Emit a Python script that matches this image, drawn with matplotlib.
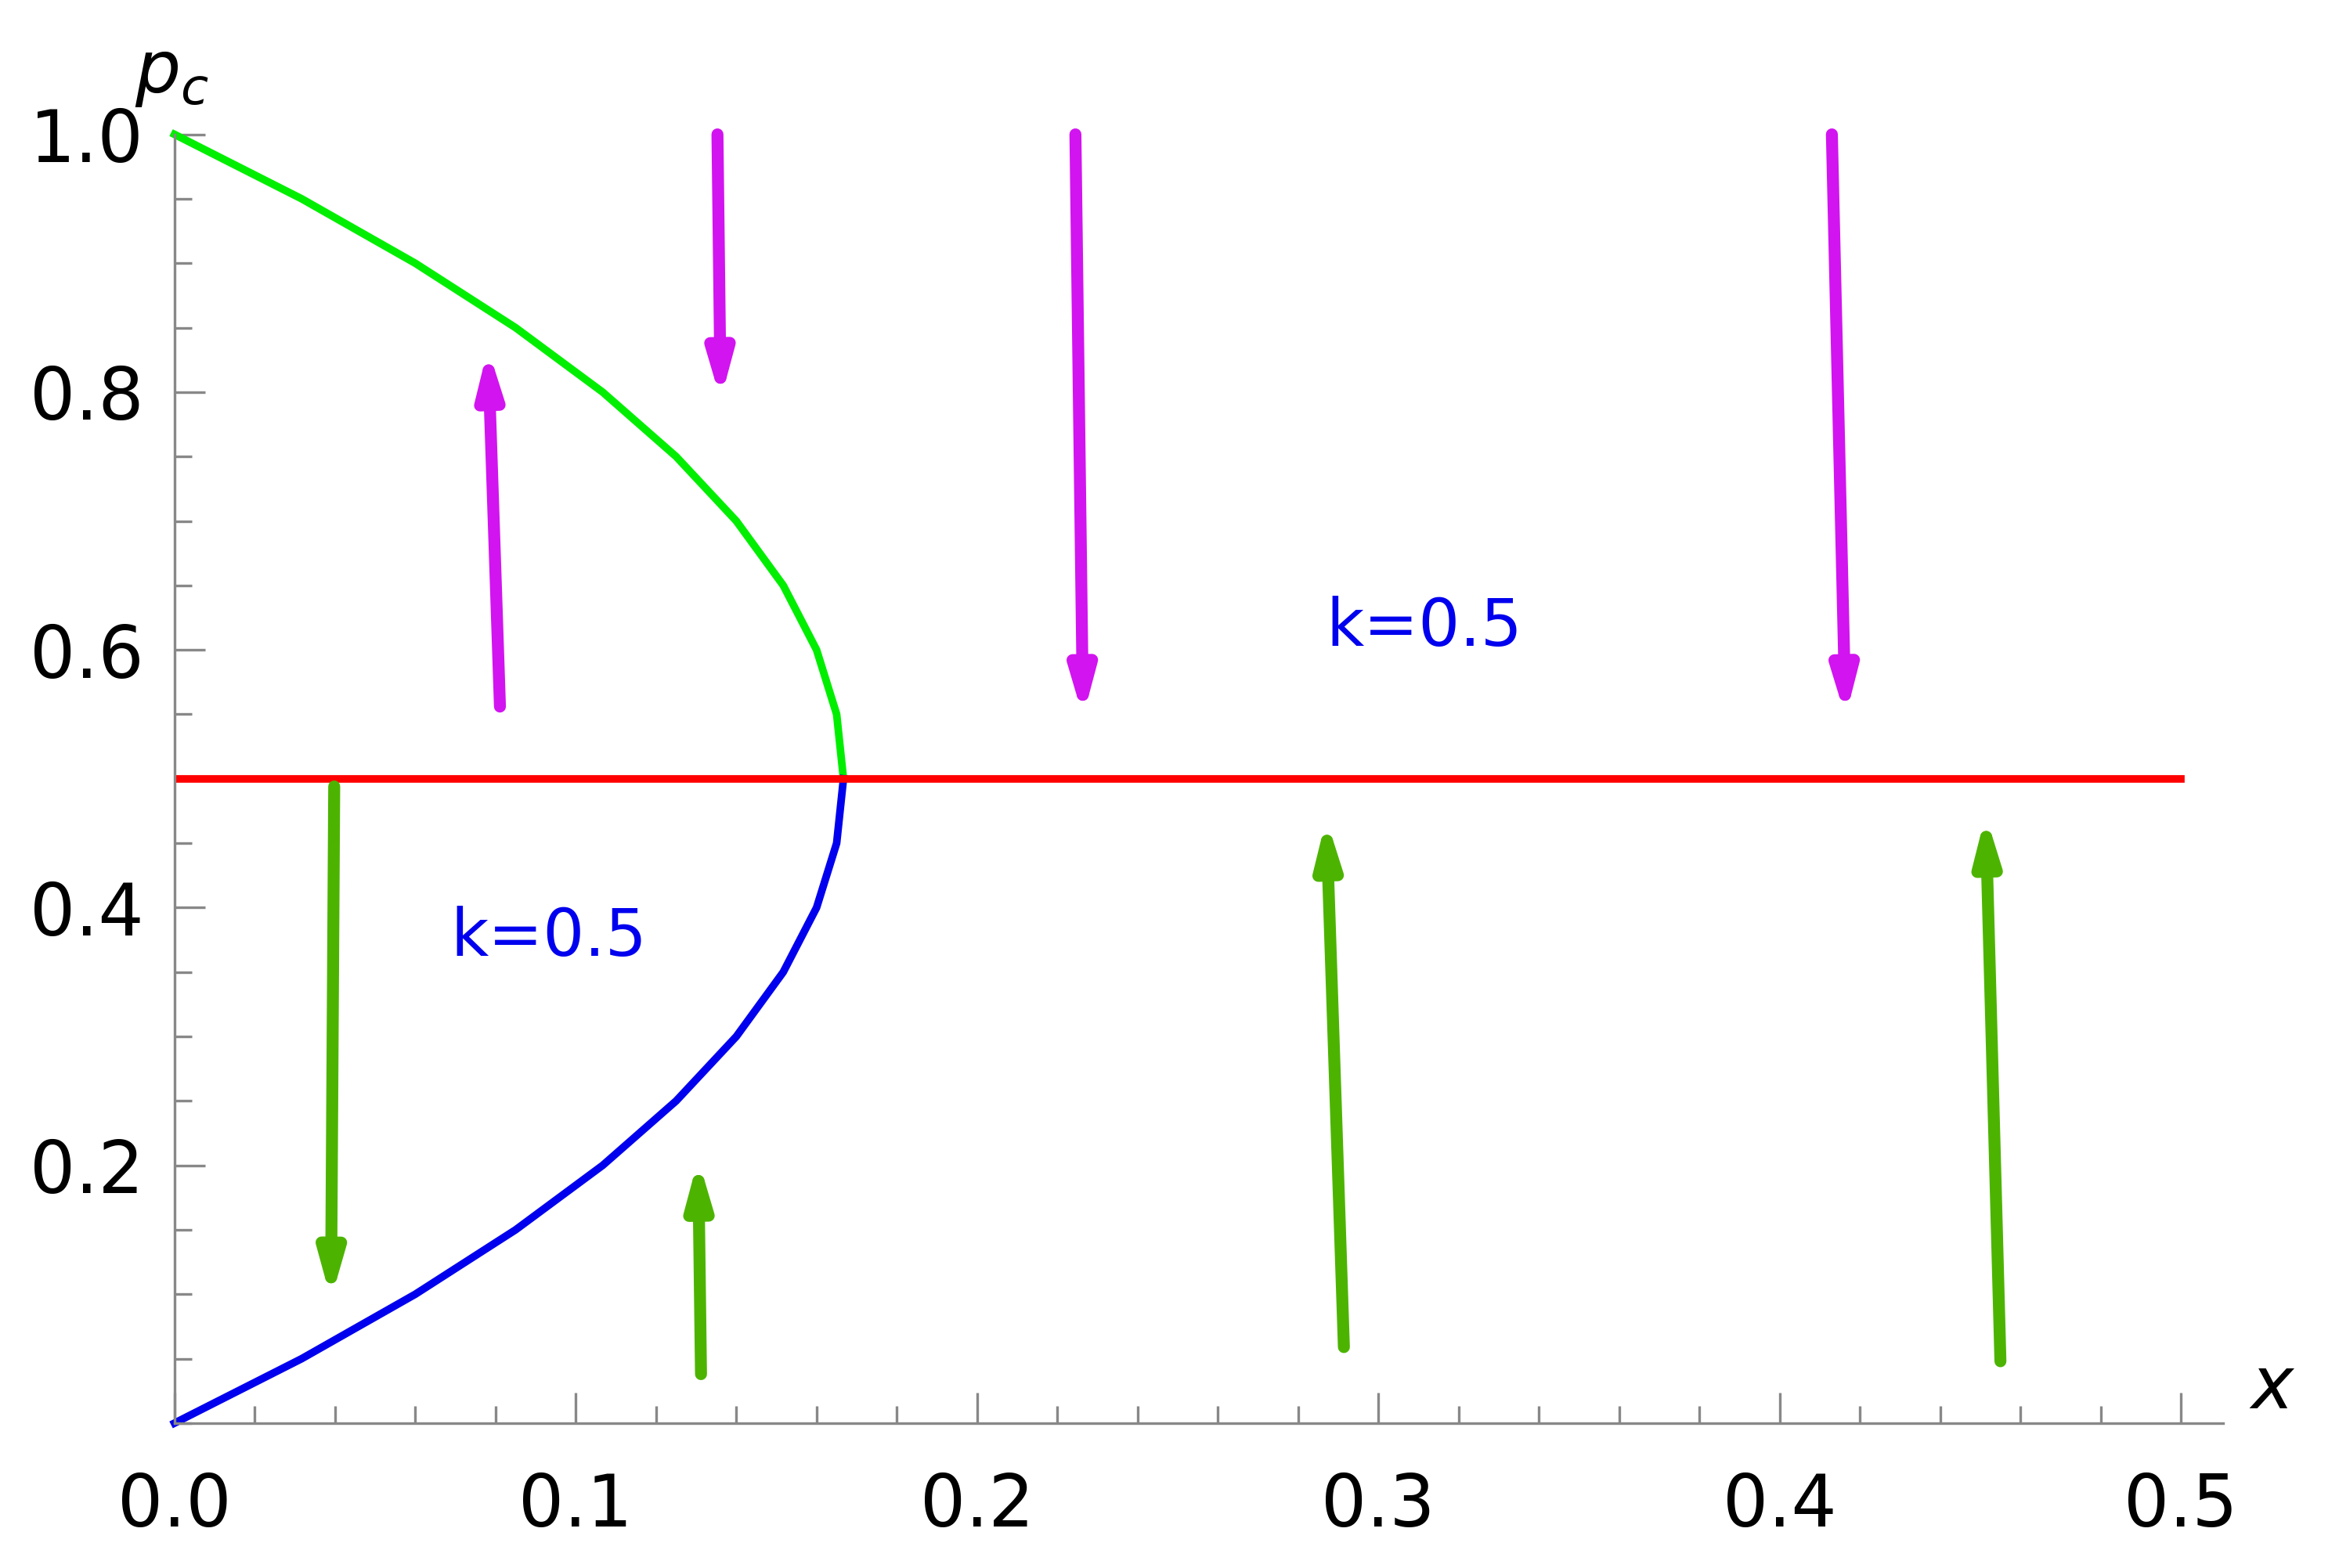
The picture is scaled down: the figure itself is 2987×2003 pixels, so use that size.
import matplotlib
matplotlib.use("Agg")
import matplotlib.pyplot as plt
from matplotlib.ticker import MultipleLocator

# curve points
p_upper = [0.5, 0.55, 0.6, 0.65, 0.7, 0.75, 0.8, 0.85, 0.9, 0.95, 1.0]
x_upper = [0.1667, 0.165, 0.16, 0.1517, 0.14, 0.125, 0.1067, 0.085, 0.06, 0.0317, 0.0]
p_lower = [0.0, 0.05, 0.1, 0.15, 0.2, 0.25, 0.3, 0.35, 0.4, 0.45, 0.5]
x_lower = [0.0, 0.0317, 0.06, 0.085, 0.1067, 0.125, 0.14, 0.1517, 0.16, 0.165, 0.1667]

# arrows (tail x, tail y, head x, head y)
magenta_arrows = [(0.0811, 0.556, 0.0781, 0.834), (0.1353, 1.0, 0.1361, 0.794),
                  (0.2245, 1.0, 0.2264, 0.548), (0.4130, 1.0, 0.4164, 0.548)]
green_arrows = [(0.0398, 0.494, 0.0390, 0.096), (0.1312, 0.038, 0.1305, 0.205),
                (0.2914, 0.059, 0.2870, 0.469), (0.4550, 0.048, 0.4513, 0.472)]

fig = plt.figure(figsize=(14.935, 10.015), dpi=200)
ax = fig.add_axes([0.0746, 0.0924, 0.8757, 0.8219])
ax.set_xlim(0, 0.5104)
ax.set_ylim(0, 1.0)
ax.set_clip_on(False)

ax.plot(x_upper, p_upper, color="#00ee00", lw=3.5, clip_on=False)
ax.plot(x_lower, p_lower, color="#0000ee", lw=3.5, clip_on=False)
ax.plot([0, 0.5], [0.5, 0.5], color="#ff0000", lw=3.5)

def arrow(a, c):
    ax.annotate("", xy=(a[2], a[3]), xytext=(a[0], a[1]),
                arrowprops=dict(arrowstyle="-|>,head_length=1.6,head_width=0.45",
                                color=c, lw=5.5, shrinkA=0, shrinkB=0),
                annotation_clip=False)
for a in magenta_arrows:
    arrow(a, "#d214f0")
for a in green_arrows:
    arrow(a, "#4cb400")

ax.text(0.3115, 0.6176, "k=0.5", color="#0000ee", fontsize=30, ha="center", va="center")
ax.text(0.0933, 0.3766, "k=0.5", color="#0000ee", fontsize=30, ha="center", va="center")

for s in ["top", "right"]:
    ax.spines[s].set_visible(False)
for s in ["left", "bottom"]:
    ax.spines[s].set_color("#888888")
    ax.spines[s].set_linewidth(1.2)
ax.set_xticks([0, 0.1, 0.2, 0.3, 0.4, 0.5])
ax.set_xticklabels(["0.0", "0.1", "0.2", "0.3", "0.4", "0.5"])
ax.set_yticks([0.2, 0.4, 0.6, 0.8, 1.0])
ax.set_yticklabels(["0.2", "0.4", "0.6", "0.8", "1.0"])
ax.xaxis.set_minor_locator(MultipleLocator(0.02))
ax.yaxis.set_minor_locator(MultipleLocator(0.05))
ax.tick_params(which="both", direction="in", color="#888888", labelsize=33, width=1.2)
ax.tick_params(which="major", length=14)
ax.tick_params(which="minor", length=8)
ax.tick_params(axis="x", pad=22)
ax.tick_params(axis="y", pad=14)
ax.text(0.517, 0.0, "$x$", fontsize=33, ha="left", va="bottom", transform=ax.transData)
ax.text(-0.010, 1.02, "$p_c$", fontsize=33, ha="left", va="bottom")
fig.savefig("out.png", dpi=200)
